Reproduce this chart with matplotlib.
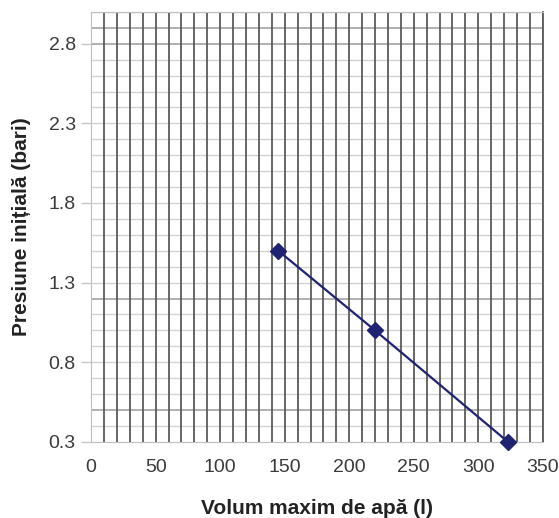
import matplotlib
matplotlib.use('Agg')
import matplotlib.pyplot as plt
import numpy as np

# data
volume = [145, 220, 323]          # Volum maxim de apa (l)
pressure = [1.5, 1.0, 0.3]        # Presiune initiala (bari)
x_ticks = [0, 50, 100, 150, 200, 250, 300, 350]
y_ticks = [0.3, 0.8, 1.3, 1.8, 2.3, 2.8]
dark_rows = [0.5, 1.2, 2.8, 2.9]  # horizontal lines that print darker

plt.rcParams['font.family'] = ['Liberation Sans', 'DejaVu Sans']

fig = plt.figure(figsize=(5.59, 5.18), dpi=100)
ax = fig.add_axes([0.163, 0.147, 0.808, 0.83])

ax.set_xlim(0, 350)
ax.set_ylim(0.3, 3.0)

# grid: dark verticals every 10 l, light horizontals every 0.1 bar
for xv in np.arange(10, 351, 10):
    ax.axvline(xv, color='#5a5a5a', linewidth=1.3, zorder=1)
for yv in np.arange(0.4, 3.01, 0.1):
    yv = round(yv, 1)
    if yv in dark_rows:
        ax.axhline(yv, color='#9a9a9a', linewidth=1.1, zorder=0.9)
    else:
        ax.axhline(yv, color='#d2d2d2', linewidth=1.0, zorder=0.8)

ax.plot(volume, pressure, color='#1f2372', linewidth=1.6, marker='D',
        markersize=8, markerfacecolor='#1f2372', markeredgecolor='#1f2372',
        zorder=3, clip_on=False)

ax.set_xticks(x_ticks)
ax.set_yticks(y_ticks)
ax.set_yticklabels([f'{v:.1f}' for v in y_ticks])
ax.tick_params(axis='both', labelsize=14, colors='#c8c8c8', labelcolor='#3a3a3a',
               length=7, width=1, pad=4)
ax.tick_params(axis='x', length=0, pad=12)

for side in ['left', 'bottom', 'top']:
    ax.spines[side].set_color('#bdbdbd')
ax.spines['right'].set_color('#5a5a5a')
ax.spines['right'].set_linewidth(1.3)

ax.set_xlabel('Volum maxim de apă (l)', fontsize=15, fontweight='bold',
              color='#222222', labelpad=17)
ax.set_ylabel('Presiune inițială (bari)', fontsize=15, fontweight='bold',
              color='#222222', labelpad=13)

fig.savefig('out.png', dpi=100)
